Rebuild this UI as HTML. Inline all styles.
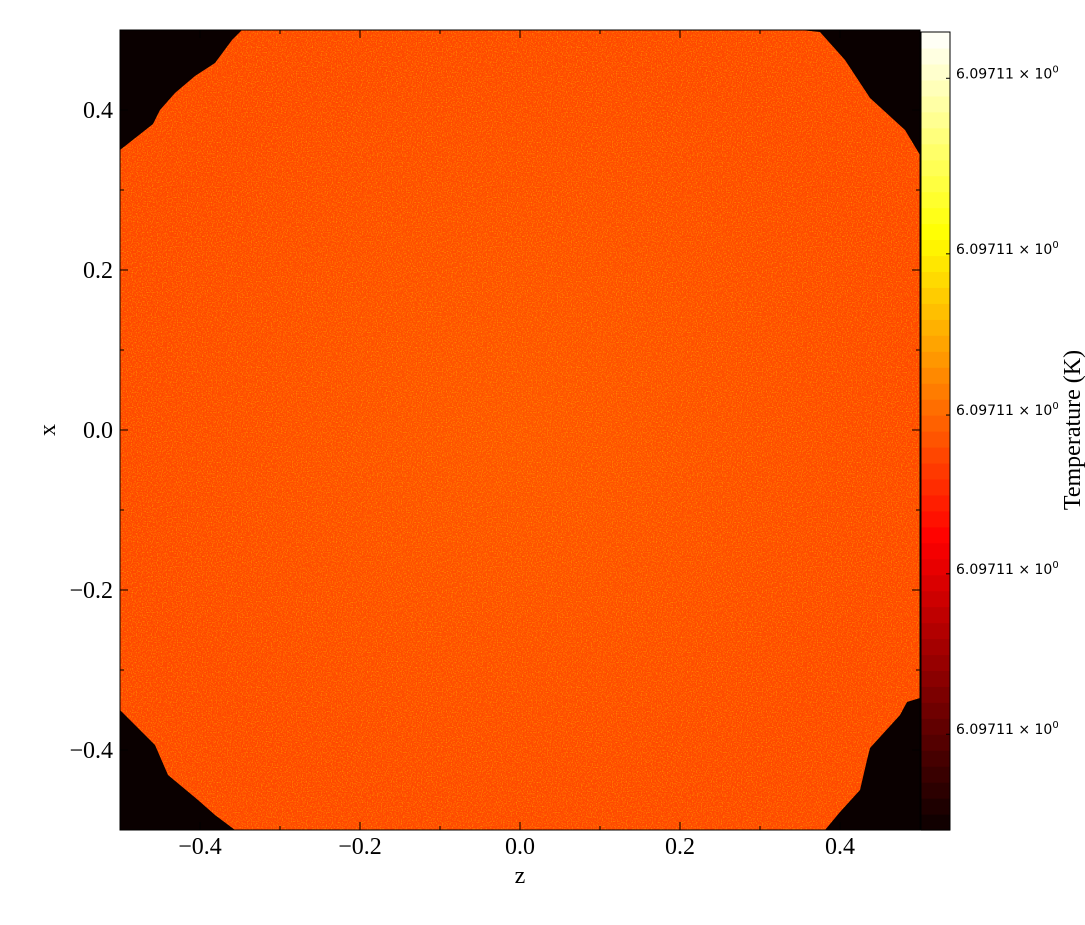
<!DOCTYPE html>
<html><head><meta charset="utf-8"><style>
body{margin:0;background:#fff;width:1085px;height:920px;overflow:hidden}
svg text{font-family:"Liberation Serif",serif}
</style></head><body>
<svg id="c" width="1085" height="920">
<defs>
<filter id="nz" x="0" y="0" width="100%" height="100%" filterUnits="userSpaceOnUse">
<feTurbulence type="fractalNoise" baseFrequency="0.8" numOctaves="1" seed="3"/>
<feColorMatrix type="matrix" values="0 0 0 0 1  0 0 0 0 0.8  0 0 0 0 0  2.2 0 0 0 -1.05"/>
</filter>
<radialGradient id="rg" cx="50%" cy="50%" r="50%">
<stop offset="0" stop-color="#ff5400"/><stop offset="1" stop-color="#ff4800"/>
</radialGradient>
<clipPath id="blobclip"><path d="M120,150 L153,124 L160,110 L175,93 L195,76 L215,63 L232,40 L242,30 L800,30 L820,32 L845,60 L870,98 L905,130 L920,155 L920,698 L907,702 L900,715 L870,748 L867,760 L860,790 L840,812 L825,830 L235,830 L215,815 L198,800 L168,775 L155,745 L145,735 L120,710 Z"/></clipPath>
</defs>
<rect x="120" y="30" width="800" height="800" fill="#0a0000"/>
<g clip-path="url(#blobclip)">
<rect x="120" y="30" width="800" height="800" fill="url(#rg)"/>
<rect x="120" y="30" width="800" height="800" filter="url(#nz)" opacity="0.6"/>
</g>
<rect x="120" y="30" width="800" height="800" fill="none" stroke="#000" stroke-width="1"/>
<g id="axes"></g>
<g id="cbar"></g>
<text x="520" y="883" font-size="24" text-anchor="middle">z</text>
<text x="55" y="430" font-size="24" text-anchor="middle" transform="rotate(-90 55 430)">x</text>
<text x="1080" y="430" font-size="24" text-anchor="middle" transform="rotate(-90 1080 430)">Temperature  (K)</text>
</svg>
<script>
const xTicks=[-0.4,-0.2,0.0,0.2,0.4];
const yTicks=[0.4,0.2,0.0,-0.2,-0.4];
const nBands=50;
const cbarLabels=["6.09711","6.09711","6.09711","6.09711","6.09711"];
const cbarTickFrac=[0.942,0.722,0.520,0.321,0.120];
const NS="http://www.w3.org/2000/svg";
const X0=120,Y0=30,W=800,H=800;
const sx=v=>X0+(v+0.5)*W, sy=v=>Y0+(0.5-v)*H;
const ax=document.getElementById('axes'), cb=document.getElementById('cbar');
function mk(t,a,p){const e=document.createElementNS(NS,t);for(const k in a)e.setAttribute(k,a[k]);p.appendChild(e);return e;}
const fmt=v=>(v<0?"\u2212":"")+Math.abs(v).toFixed(1);
for(let i=-5;i<=5;i++){const v=i/10;const maj=(i%2===0);const L=maj?8:4;
 const x=sx(v);
 let t=mk('line',{x1:x,x2:x,y1:Y0+H,y2:Y0+H-L,stroke:'#000'},ax);
 
 mk('line',{x1:x,x2:x,y1:Y0,y2:Y0+L,stroke:'#000'},ax);
 const y=sy(v);
 t=mk('line',{x1:X0,x2:X0+L,y1:y,y2:y,stroke:'#000'},ax);
 
 mk('line',{x1:X0+W,x2:X0+W-L,y1:y,y2:y,stroke:'#000'},ax);
}
xTicks.forEach(v=>{const e=mk('text',{x:sx(v),y:854,'font-size':24,'text-anchor':'middle'},ax);e.textContent=fmt(v);
 });
yTicks.forEach(v=>{const e=mk('text',{x:113,y:sy(v)+8,'font-size':24,'text-anchor':'end'},ax);e.textContent=fmt(v);
 });
const CX=921,CY=32,CW=29,CH=798;
function hot(f){const r=Math.min(1,f/0.365),g=Math.min(1,Math.max(0,(f-0.365)/0.381)),b=Math.min(1,Math.max(0,(f-0.746)/0.254));
 return `rgb(${Math.round(10+245*r)},${Math.round(255*g)},${Math.round(255*b)})`;}
const bh=CH/nBands;
for(let i=0;i<nBands;i++){const f=(i+0.5)/nBands;
 const r=mk('rect',{x:CX,y:CY+CH-(i+1)*bh,width:CW,height:bh+0.6,fill:hot(f)},cb);
 }
mk('rect',{x:CX,y:CY,width:CW,height:CH,fill:'none',stroke:'#000'},cb);
cbarTickFrac.forEach((f,i)=>{const y=CY+CH*(1-f);
 mk('line',{x1:CX+CW,x2:CX+CW-4,y1:y,y2:y,stroke:'#000'},cb);
 const e=mk('text',{x:956,y:y,'font-size':14,style:'font-family:"DejaVu Sans",sans-serif'},cb);
 e.innerHTML=cbarLabels[i]+" \u00d7 10<tspan dy='-6' font-size='10'>0</tspan>";
 });
</script>
</body></html>
